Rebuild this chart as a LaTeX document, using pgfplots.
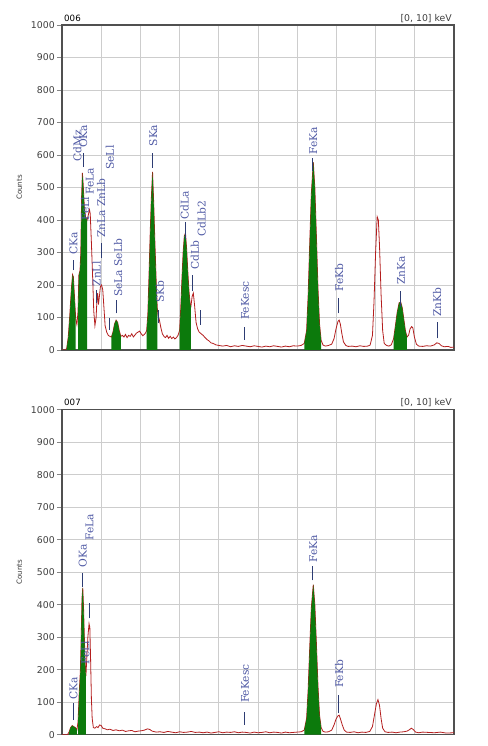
\documentclass[border=0pt]{standalone}
\usepackage{fontspec}
\setmainfont{DejaVu Sans}
\newfontfamily\lblfont{DejaVu Serif}
\usepackage{pgfplots}
\pgfplotsset{compat=1.18}

\definecolor{specred}{RGB}{180,30,30}
\definecolor{pkgreen}{RGB}{12,122,12}
\definecolor{lblblue}{RGB}{80,90,165}
\definecolor{mkblue}{RGB}{45,60,115}
\definecolor{gridgray}{RGB}{205,205,205}
\definecolor{framegray}{RGB}{80,80,80}

\newcommand{\pkm}[3]{\draw[mkblue, line width=0.7pt] (axis cs:#1,#2) -- (axis cs:#1,#3);}
\newcommand{\pkt}[3]{\node[rotate=90, anchor=west, inner sep=0pt, text=lblblue, font=\lblfont\fontsize{8}{9}\selectfont] at (axis cs:#1,#2) {#3};}

\pgfplotsset{eds/.style={
  scale only axis, width=294pt, height=243.75pt,
  xmin=0, xmax=10, ymin=0, ymax=1000,
  xtick={0,1,...,10}, xticklabels={}, ytick={0,100,...,1000},
  grid=major, major grid style={gridgray, line width=0.6pt},
  axis line style={framegray, line width=0.9pt},
  tick align=outside, ytick pos=left, xtick style={draw=none},
  major tick length=3.75pt, ytick style={framegray!70, line width=0.6pt},
  tick label style={font=\fontsize{7}{8}\selectfont, text=black!75},
  yticklabel style={inner sep=1.5pt},
  /pgf/number format/assume math mode=true,
  /pgf/number format/1000 sep={},
  ylabel={Counts},
  ylabel style={font=\fontsize{5.3}{6}\selectfont, text=black!80, at={(axis description cs:-0.109,0.5)}, anchor=center},
}}

\begin{document}
\begin{tikzpicture}
\path[use as bounding box, fill=white] (0,0) rectangle (365.25pt,559.5pt);

% ---------------- panel 006 ----------------
\begin{axis}[eds, at={(46.5pt,297pt)}, anchor=south west,
  extra description/.code={
    \node[anchor=base west, inner sep=0pt, font=\fontsize{6.5}{7}\selectfont] at (0.005,1.012) {006};
    \node[anchor=base east, inner sep=0pt, font=\fontsize{7}{8}\selectfont, text=black!75] at (0.995,1.012) {[0, 10] keV};
  }]
\addplot[specred, line width=0.6pt] coordinates {
(0.00,0)(0.08,0)(0.12,5)(0.16,40)(0.20,110)(0.24,190)(0.27,232)(0.29,225)(0.32,160)(0.35,95)(0.38,78)
(0.41,120)(0.43,230)(0.46,245)(0.48,300)(0.50,470)(0.52,545)(0.54,510)(0.57,440)(0.60,410)(0.64,400)
(0.67,415)(0.70,432)(0.72,420)(0.75,330)(0.78,230)(0.81,120)(0.84,75)(0.87,100)(0.89,150)(0.91,175)
(0.93,140)(0.95,160)(0.98,195)(1.01,200)(1.04,185)(1.07,130)(1.10,75)(1.14,55)(1.18,45)(1.22,42)
(1.26,40)(1.30,55)(1.34,80)(1.38,92)(1.42,85)(1.46,60)(1.50,42)(1.54,45)(1.58,40)(1.62,48)(1.66,38)
(1.70,45)(1.74,42)(1.78,50)(1.82,40)(1.86,46)(1.90,52)(1.94,55)(1.98,58)(2.02,50)(2.06,44)(2.10,48)
(2.13,52)(2.16,60)(2.19,110)(2.22,230)(2.25,360)(2.28,470)(2.31,548)(2.34,450)(2.37,330)(2.40,220)
(2.43,130)(2.45,105)(2.48,95)(2.52,70)(2.56,50)(2.60,42)(2.64,38)(2.68,45)(2.72,36)(2.76,42)(2.80,35)
(2.84,40)(2.88,34)(2.92,38)(2.96,45)(3.00,60)(3.03,130)(3.06,220)(3.09,300)(3.12,350)(3.15,360)
(3.18,310)(3.21,240)(3.24,180)(3.27,140)(3.29,135)(3.32,165)(3.35,175)(3.38,140)(3.42,85)(3.46,65)
(3.50,55)(3.55,50)(3.60,45)
(3.65,38)(3.70,32)(3.75,28)(3.80,22)(3.86,20)(3.92,16)(4.00,14)(4.10,12)(4.20,14)(4.30,10)(4.40,13)
(4.50,11)(4.60,14)(4.70,12)(4.80,10)(4.90,13)(5.00,11)(5.10,9)(5.20,12)(5.30,10)(5.40,13)(5.50,11)
(5.60,9)(5.70,12)(5.80,10)(5.90,13)(6.00,12)(6.10,14)(6.18,20)(6.24,60)(6.28,170)(6.32,330)(6.36,480)
(6.41,578)(6.45,500)(6.49,350)(6.53,190)(6.57,80)(6.61,30)(6.66,15)(6.72,12)(6.80,14)(6.88,18)
(6.94,35)(6.99,65)(7.04,88)(7.07,92)(7.10,80)(7.14,50)(7.18,25)(7.24,14)(7.30,11)(7.40,12)(7.50,10)
(7.60,13)(7.70,11)(7.80,12)(7.86,15)(7.92,45)(7.96,150)(8.00,300)(8.04,410)(8.07,400)(8.10,320)
(8.14,170)(8.18,60)(8.22,20)(8.28,14)(8.34,12)(8.40,16)(8.46,35)(8.50,70)(8.55,115)(8.60,145)
(8.64,148)(8.68,130)(8.72,95)(8.76,60)(8.80,40)(8.84,45)(8.88,65)(8.92,72)(8.95,68)(8.99,40)
(9.04,18)(9.10,12)(9.20,11)(9.30,13)(9.40,12)(9.50,16)(9.56,22)(9.62,20)(9.68,13)(9.75,10)(9.85,11)
(9.92,8)(10.00,9)};
\addplot[draw=none, fill=pkgreen] coordinates {(0.12,5)(0.16,40)(0.20,110)(0.24,190)(0.27,232)(0.29,225)(0.32,160)(0.35,95)} \closedcycle;
\addplot[draw=none, fill=pkgreen] coordinates {(0.41,120)(0.43,230)(0.46,245)(0.48,300)(0.50,470)(0.52,545)(0.54,510)(0.57,440)(0.60,410)(0.64,400)} \closedcycle;
\addplot[draw=none, fill=pkgreen] coordinates {(1.26,40)(1.30,55)(1.34,80)(1.38,92)(1.42,85)(1.46,60)(1.50,42)} \closedcycle;
\addplot[draw=none, fill=pkgreen] coordinates {(2.16,60)(2.19,110)(2.22,230)(2.25,360)(2.28,470)(2.31,548)(2.34,450)(2.37,330)(2.40,220)(2.43,130)} \closedcycle;
\addplot[draw=none, fill=pkgreen] coordinates {(3.00,60)(3.03,130)(3.06,220)(3.09,300)(3.12,350)(3.15,360)(3.18,310)(3.21,240)(3.24,180)(3.27,140)(3.29,135)} \closedcycle;
\addplot[draw=none, fill=pkgreen] coordinates {(6.18,20)(6.24,60)(6.28,170)(6.32,330)(6.36,480)(6.41,578)(6.45,500)(6.49,350)(6.53,190)(6.57,80)(6.61,30)} \closedcycle;
\addplot[draw=none, fill=pkgreen] coordinates {(8.46,35)(8.50,70)(8.55,115)(8.60,145)(8.64,148)(8.68,130)(8.72,95)(8.76,60)(8.80,40)} \closedcycle;
% peak labels
\pkm{0.28}{246}{277}\pkt{0.29}{292}{CKa}
\pkt{0.39}{580}{CdMz}
\pkm{0.54}{563}{606}\pkt{0.54}{621}{OKa}
\pkt{0.71}{477}{FeLa}
\pkt{0.59}{398}{FeLl}
\pkm{0.88}{145}{185}\pkt{0.88}{195}{ZnLl}
\pkm{1.01}{283}{330}\pkt{1.00}{345}{ZnLa ZnLb}
\pkm{1.21}{62}{98}\pkt{1.22}{554}{SeLl}
\pkm{1.40}{113}{153}\pkt{1.43}{163}{SeLa SeLb}
\pkm{2.31}{560}{606}\pkt{2.33}{626}{SKa}
\pkm{2.47}{83}{123}\pkt{2.50}{145}{SKb}
\pkm{3.14}{340}{395}\pkt{3.13}{400}{CdLa}
\pkm{3.32}{180}{231}\pkt{3.39}{246}{CdLb}
\pkm{3.54}{77}{123}\pkt{3.56}{349}{CdLb2}
\pkm{4.66}{31}{72}\pkt{4.67}{92}{FeKesc}
\pkm{6.40}{550}{590}\pkt{6.41}{600}{FeKa}
\pkm{7.06}{113}{160}\pkt{7.07}{179}{FeKb}
\pkm{8.63}{133}{180}\pkt{8.65}{200}{ZnKa}
\pkm{9.57}{36}{87}\pkt{9.57}{102}{ZnKb}
\end{axis}

% ---------------- panel 007 ----------------
\begin{axis}[eds, at={(46.5pt,8.475pt)}, anchor=south west,
  extra description/.code={
    \node[anchor=base west, inner sep=0pt, font=\fontsize{6.5}{7}\selectfont] at (0.005,1.012) {007};
    \node[anchor=base east, inner sep=0pt, font=\fontsize{7}{8}\selectfont, text=black!75] at (0.995,1.012) {[0, 10] keV};
  }]
\addplot[specred, line width=0.6pt] coordinates {
(0.00,0)(0.14,0)(0.18,8)(0.22,22)(0.26,28)(0.30,25)(0.34,22)(0.38,15)(0.41,40)(0.44,130)(0.47,200)
(0.49,300)(0.51,420)(0.53,452)(0.55,390)(0.57,300)(0.59,220)(0.61,180)(0.63,230)(0.66,300)(0.69,342)
(0.71,330)(0.73,230)(0.75,110)(0.77,50)(0.80,22)(0.84,20)(0.88,25)(0.92,22)(0.96,30)(1.00,28)
(1.04,20)(1.10,18)(1.16,15)(1.22,17)(1.30,13)(1.38,15)(1.46,12)(1.54,14)(1.62,10)(1.70,12)(1.78,13)
(1.86,9)(1.94,11)(2.02,12)(2.10,14)(2.18,18)(2.24,16)(2.30,11)(2.40,8)(2.50,9)(2.60,7)(2.70,10)
(2.80,8)(2.90,6)(3.00,9)(3.10,7)(3.20,8)(3.30,10)(3.40,7)(3.50,8)(3.60,6)(3.70,8)(3.80,5)(3.90,7)
(4.00,9)(4.10,6)(4.20,8)(4.30,7)(4.40,9)(4.50,6)(4.60,8)(4.70,7)(4.80,5)(4.90,8)(5.00,6)(5.10,7)
(5.20,9)(5.30,6)(5.40,8)(5.50,7)(5.60,5)(5.70,8)(5.80,6)(5.90,7)(6.00,8)(6.10,9)(6.18,14)(6.24,50)
(6.28,140)(6.32,270)(6.36,390)(6.41,462)(6.45,400)(6.49,280)(6.53,150)(6.57,60)(6.61,22)(6.66,10)
(6.72,8)(6.80,9)(6.88,14)(6.94,30)(6.99,48)(7.04,58)(7.07,60)(7.10,50)(7.15,30)(7.20,14)(7.26,8)
(7.35,7)(7.45,9)(7.55,6)(7.65,8)(7.75,7)(7.85,10)(7.92,25)(7.97,60)(8.02,95)(8.06,108)(8.10,90)
(8.14,50)(8.18,20)(8.24,9)(8.32,7)(8.42,8)(8.52,6)(8.62,8)(8.72,9)(8.80,11)(8.86,15)(8.91,20)
(8.96,16)(9.02,8)(9.10,6)(9.20,8)(9.35,7)(9.50,6)(9.65,8)(9.80,5)(10.00,6)};
\addplot[draw=none, fill=pkgreen] coordinates {(0.18,8)(0.22,22)(0.26,28)(0.30,25)(0.34,22)(0.38,15)} \closedcycle;
\addplot[draw=none, fill=pkgreen] coordinates {(0.41,40)(0.44,130)(0.47,200)(0.49,300)(0.51,420)(0.53,452)(0.55,390)(0.57,300)(0.59,220)(0.61,180)} \closedcycle;
\addplot[draw=none, fill=pkgreen] coordinates {(6.18,14)(6.24,50)(6.28,140)(6.32,270)(6.36,390)(6.41,462)(6.45,400)(6.49,280)(6.53,150)(6.57,60)(6.61,22)} \closedcycle;
\pkm{0.28}{45}{97}\pkt{0.29}{106}{CKa}
\pkm{0.52}{453}{496}\pkt{0.53}{514}{OKa}
\pkm{0.70}{358}{404}\pkt{0.70}{597}{FeLa}
\pkt{0.60}{215}{FeLl}
\pkm{4.66}{30}{70}\pkt{4.67}{97}{FeKesc}
\pkm{6.40}{475}{520}\pkt{6.41}{530}{FeKa}
\pkm{7.06}{66}{122}\pkt{7.07}{143}{FeKb}
\end{axis}
\end{tikzpicture}
\end{document}
